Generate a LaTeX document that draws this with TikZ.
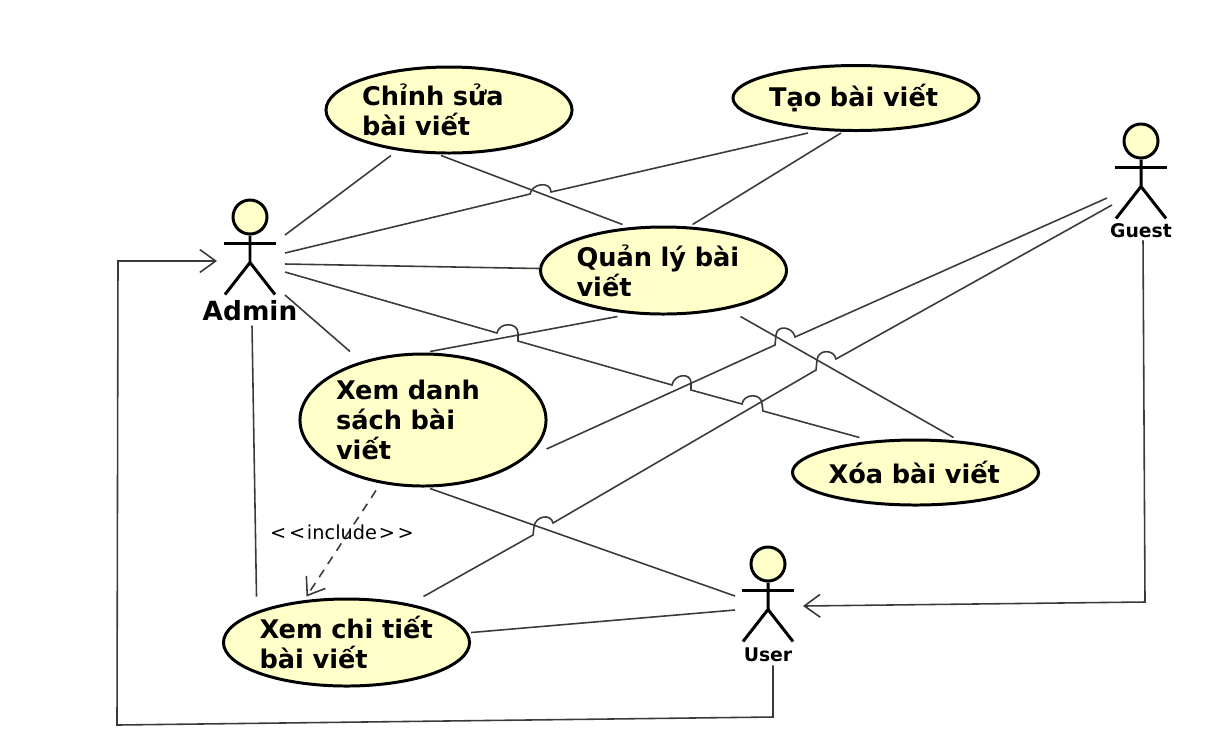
\documentclass[tikz,border=0pt]{standalone}
\usepackage{fontspec}
\setmainfont{DejaVu Sans}
\usetikzlibrary{arrows.meta, calc, shapes.geometric}
\definecolor{ucfill}{HTML}{FFFFC9}
\definecolor{linegray}{HTML}{3A3A3A}
\tikzset{%
    uc/.style={ellipse, draw=black, line width=1.7pt, fill=ucfill, inner sep=0pt, minimum width=246*0.02cm,
        text width=174*0.02cm, align=left, font=\fontsize{14.6}{17}\selectfont\bfseries},
    sec/.style={line width=0.9pt, draw=linegray},
    seca/.style={sec, -{Straight Barb[length=9pt, width=13pt, line width=0.9pt]}},
    incl/.style={sec, dash pattern=on 5pt off 4pt, -{Straight Barb[length=9pt, width=13pt, line width=0.9pt]}},
    actname/.style={inner sep=0pt, font=\fontsize{10.7}{12}\selectfont\bfseries},
    acthead/.style={circle, draw=black, line width=1.7pt, fill=ucfill, inner sep=0pt, minimum size=34*0.02cm},
    fig/.style={line width=1.7pt, draw=black},
}
% stick figure below a head node
\newcommand{\actfig}[1]{%
    \draw [fig] (#1.south) -- ++(0,27) -- ++(-25,32);
    \draw [fig] ($(#1.south)+(0,27)$) -- ++(25,32);
    \draw [fig] ($(#1.south)+(-26,8)$) -- ++(52,0);
}
\begin{document}
\begin{tikzpicture}[x=0.02cm, y=-0.02cm]
    \useasboundingbox (0,0) rectangle (1219,745);
    % use cases
    \node [uc, minimum height=86*0.02cm] (chinhsua) at (449,110) {Chỉnh sửa\\bài viết};
    \node [uc, minimum height=65*0.02cm] (tao) at (856,98) {Tạo bài viết};
    \node [uc, minimum height=87*0.02cm] (quanly) at (663.5,270.5) {Quản lý bài\\viết};
    \node [uc, minimum height=132*0.02cm] (xemdanh) at (423,420) {Xem danh\\sách bài\\viết};
    \node [uc, minimum height=65*0.02cm] (xoa) at (915.5,472.5) {Xóa bài viết};
    \node [uc, minimum height=87*0.02cm] (xemct) at (346.5,642.5) {Xem chi tiết\\bài viết};
    % actors
    \node [acthead] (admin) at (250,217) {};
    \node [acthead] (guest) at (1141,141) {};
    \node [acthead] (user) at (768,564) {};
    \actfig{admin}
    \actfig{guest}
    \actfig{user}
    \node [actname, font=\fontsize{15}{17}\selectfont\bfseries] (adminname) at (250,311) {Admin};
    \node [actname] (guestname) at (1141,231) {Guest};
    \node [actname] (username) at (768,655) {User};
    % free ends next to the actors
    \coordinate (ad1) at (285,235);
    \coordinate (ad2) at (285,253);
    \coordinate (ad3) at (285,264);
    \coordinate (ad4) at (285,272);
    \coordinate (ad5) at (285,295);
    \coordinate (gu1) at (1107,198);
    \coordinate (gu2) at (1112,205);
    \coordinate (us1) at (735,596);
    \coordinate (us2) at (735,610);
    % admin
    \draw [sec] (ad1) -- ($(chinhsua.south)+(-58,1)$);
    \draw [sec] (ad2) -- (530,194) .. controls +(2,-11) and +(0,-11) .. (551,192) -- ($(tao.south)+(-48,1)$);
    \draw [sec] (ad3) -- ($(quanly.west)+(0,-2)$);
    \draw [sec] (ad4) -- (497,333) .. controls +(2,-11) and +(0,-11) .. (518,333) -- (518,341)
        -- (672,385) .. controls +(2,-11) and +(0,-11) .. (691,383) -- (691,390)
        -- (742,404) .. controls +(2,-11) and +(0,-11) .. (762,404) -- (763,411)
        -- ($(xoa.north)+(-56,-1)$);
    \draw [sec] (ad5) -- ($(xemdanh.north)+(-73,-1)$);
    \draw [sec] ($(adminname.south)+(2,4)$) -- ($(xemct.north)+(-90,-1)$);
    % quan ly
    \draw [sec] ($(chinhsua.south)+(-8,1)$) -- ($(quanly.north)+(-41,-1)$);
    \draw [sec] ($(tao.south)+(-15,1)$) -- ($(quanly.north)+(29,-1)$);
    \draw [sec] ($(quanly.south)+(-46,1)$) -- ($(xemdanh.north)+(7,-1)$);
    \draw [sec] ($(quanly.south)+(77,1)$) -- ($(xoa.north)+(38,-1)$);
    % guest
    \draw [sec] (gu1) -- (795,337) .. controls +(-2,-10) and +(1,-11) .. (776,335) -- (775,345)
        -- ($(xemdanh.east)+(-1,29)$);
    \draw [sec] (gu2) -- (836,359) .. controls +(-2,-10) and +(1,-11) .. (817,360) -- (816,370)
        -- (553,523) .. controls +(-2,-10) and +(1,-11) .. (534,527) -- (533,535)
        -- ($(xemct.north)+(77,-1)$);
    \draw [seca] ($(guestname.south)+(2,2)$) -- (1145,602) -- ($(user)+(35,42)$);
    % user
    \draw [sec] ($(xemdanh.south)+(7,1)$) -- (us1);
    \draw [sec] ($(xemct.east)+(0,-10)$) -- (us2);
    \draw [seca] ($(username.south)+(5,3)$) -- (773,717) -- (117,725) -- (118,261) -- ($(admin)+(-33,44)$);
    % include
    \draw [incl] ($(xemdanh.south)+(-47,3)$) -- ($(xemct.north)+(-40,-1)$);
    \node [inner sep=0pt, font=\fontsize{11}{13}\selectfont] (inclabel) at (342,532) {{<}\kern1.5pt{<}\kern1pt include\kern1pt{>}\kern1.5pt{>}};
\end{tikzpicture}
\end{document}
